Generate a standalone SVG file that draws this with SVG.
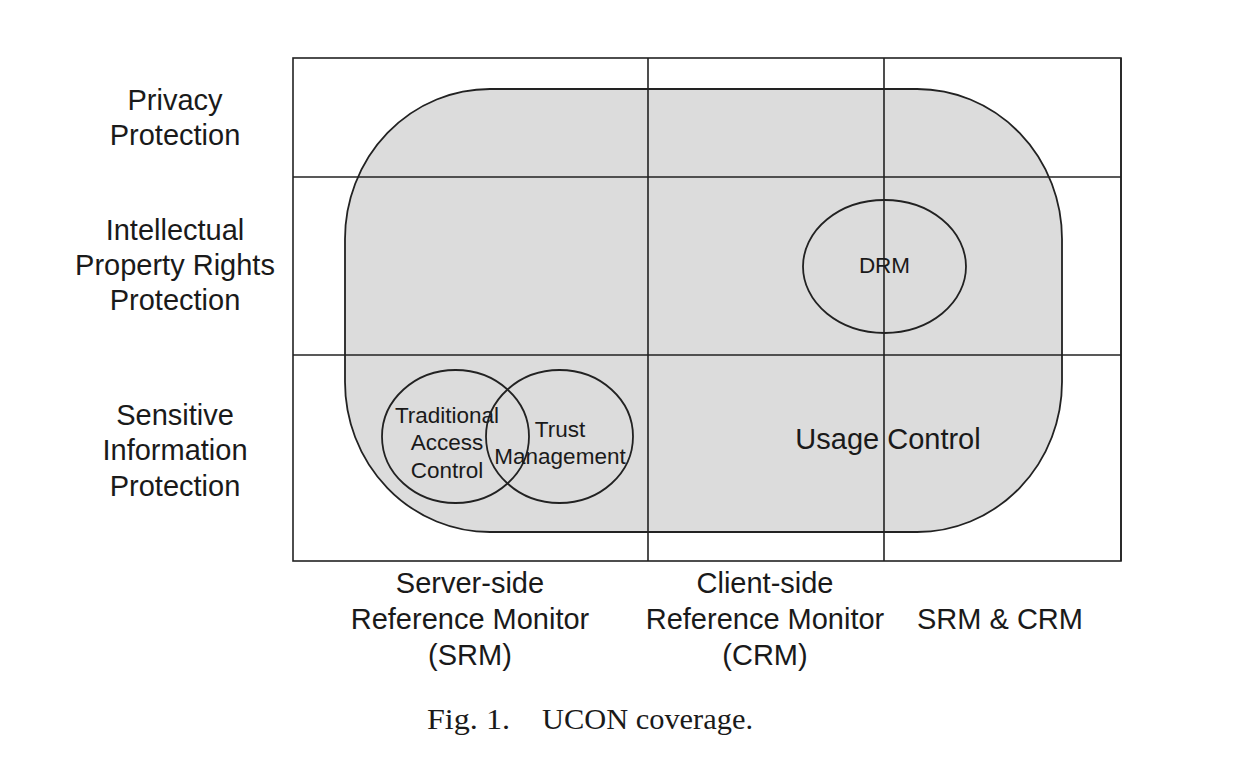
<svg xmlns="http://www.w3.org/2000/svg" width="1256" height="758" viewBox="0 0 1256 758">
<style>
.lbl{font-family:"Liberation Sans",Arial,sans-serif;font-size:29px;fill:#1a1a1a;text-anchor:middle}
.sm{font-family:"Liberation Sans",Arial,sans-serif;font-size:22.5px;fill:#1a1a1a;text-anchor:middle}
.cap{font-family:"Liberation Serif","Times New Roman",serif;font-size:30px;fill:#1a1a1a}
.ln{stroke:#222;stroke-width:1.6;fill:none}
.ell{stroke:#222;stroke-width:1.8;fill:none}
</style>
<rect width="1256" height="758" fill="#fff"/>
<g id="usage-control">
<rect x="345" y="89" width="717" height="443" rx="145" ry="150" fill="#dcdcdc" stroke="#222" stroke-width="1.8"/>
</g>
<g id="grid">
<rect class="ln" x="293" y="58" width="828" height="503"/>
<line class="ln" x1="1121" y1="58" x2="1121" y2="561" stroke-width="3"/>
<line class="ln" x1="648" y1="58" x2="648" y2="561"/>
<line class="ln" x1="884" y1="58" x2="884" y2="561"/>
<line class="ln" x1="293" y1="177" x2="1121" y2="177"/>
<line class="ln" x1="293" y1="355" x2="1121" y2="355"/>
</g>
<g id="connectors"></g>
<g id="usage-control-label">
<text class="lbl" x="888" y="449">Usage Control</text>
</g>
<g id="drm">
<ellipse class="ell" cx="884.5" cy="266.5" rx="81.5" ry="66.5"/>
<text class="sm" x="884.5" y="273">DRM</text>
</g>
<g id="traditional-access-control">
<ellipse class="ell" cx="455.5" cy="436.5" rx="73.5" ry="66.5"/>
<text class="sm" x="447" y="423">Traditional</text>
<text class="sm" x="447" y="450">Access</text>
<text class="sm" x="447" y="478">Control</text>
</g>
<g id="trust-management">
<ellipse class="ell" cx="559.5" cy="436.5" rx="73.5" ry="66.5"/>
<text class="sm" x="560" y="437">Trust</text>
<text class="sm" x="560" y="464">Management</text>
</g>
<g id="row-labels">
<text class="lbl" x="175" y="110">Privacy</text>
<text class="lbl" x="175" y="145">Protection</text>
<text class="lbl" x="175" y="240">Intellectual</text>
<text class="lbl" x="175" y="275">Property Rights</text>
<text class="lbl" x="175" y="310">Protection</text>
<text class="lbl" x="175" y="425">Sensitive</text>
<text class="lbl" x="175" y="460">Information</text>
<text class="lbl" x="175" y="496">Protection</text>
</g>
<g id="column-labels">
<text class="lbl" x="470" y="593">Server-side</text>
<text class="lbl" x="470" y="629">Reference Monitor</text>
<text class="lbl" x="470" y="665">(SRM)</text>
<text class="lbl" x="765" y="593">Client-side</text>
<text class="lbl" x="765" y="629">Reference Monitor</text>
<text class="lbl" x="765" y="665">(CRM)</text>
<text class="lbl" x="1000" y="629">SRM &amp; CRM</text>
</g>
<g id="caption">
<text class="cap" x="427" y="729" textLength="83" lengthAdjust="spacingAndGlyphs">Fig. 1.</text>
<text class="cap" x="542" y="729" textLength="211" lengthAdjust="spacingAndGlyphs">UCON coverage.</text>
</g>
</svg>
